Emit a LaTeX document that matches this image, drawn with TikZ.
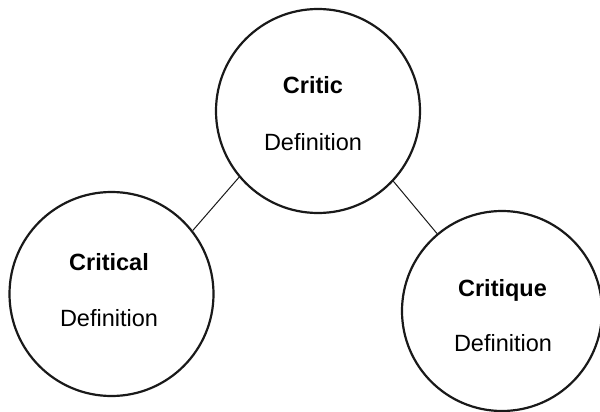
\documentclass[tikz,border=0pt]{standalone}
\usepackage{fontspec}
\setmainfont{Liberation Sans}
\begin{document}
\begin{tikzpicture}[x=1pt,y=-1pt,
  bubble/.style={draw=black!90, line width=2.2pt, circle, inner sep=0pt, minimum size=#1},
  word/.style={font=\fontsize{23.5}{28}\selectfont\bfseries, anchor=base, inner sep=0pt},
  defn/.style={font=\fontsize{23.5}{28}\selectfont, anchor=base, inner sep=0pt},
  link/.style={draw=black!90, line width=1pt}]
\useasboundingbox[fill=white] (0,0) rectangle (600,412);
\node[bubble=204pt] (top) at (318,111) {};
\node[bubble=204pt] (left) at (111.5,294) {};
\node[bubble=200pt] (right) at (502,311) {};
\node[word] (t1) at (313,94) {Critic};
\node[defn] (t2) at (313,150) {Definition};
\node[word] (l1) at (109,270.7) {Critical};
\node[defn] (l2) at (109,326.7) {Definition};
\node[word] (r1) at (502.5,296) {Critique};
\node[defn] (r2) at (503,351) {Definition};
\draw[link] (top.220.3) -- (left.38.4);
\draw[link] (top.-43) -- (right.130);
\end{tikzpicture}
\end{document}
